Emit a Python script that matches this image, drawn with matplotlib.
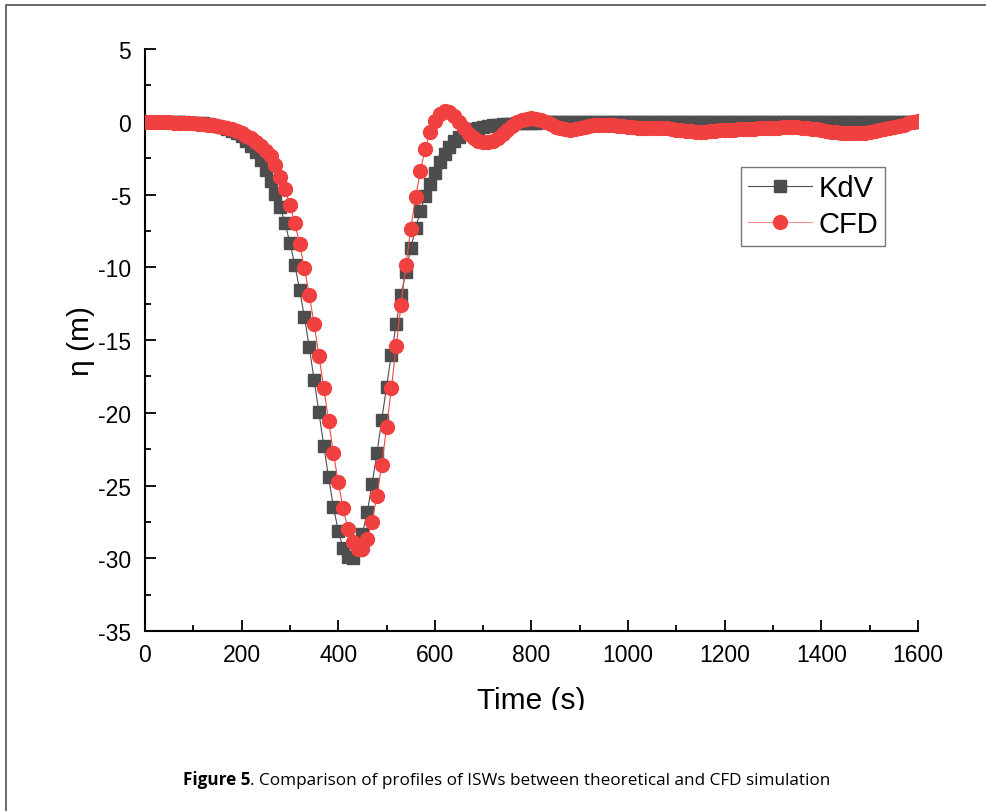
import matplotlib
matplotlib.use("Agg")
import matplotlib.pyplot as plt
from matplotlib.lines import Line2D
from matplotlib.transforms import Bbox, TransformedBbox
from matplotlib.ticker import MultipleLocator

# sample times (s), one point every 10 s
time_s = list(range(0, 1610, 10))

# KdV theory, eta (m)
kdv = [
    0.0, -0.01, -0.01, -0.01, -0.02, -0.02, -0.03, -0.04, -0.05, -0.06,
    -0.07, -0.09, -0.12, -0.16, -0.21, -0.28, -0.37, -0.48, -0.62, -0.8,
    -1.0, -1.3, -1.65, -2.1, -2.6, -3.35, -4.1, -4.97, -5.88, -6.98,
    -8.33, -9.83, -11.55, -13.42, -15.5, -17.73, -19.97, -22.26, -24.44, -26.46,
    -28.1, -29.3, -29.9, -29.95, -29.4, -28.3, -26.85, -24.9, -22.8, -20.5,
    -18.2, -16.0, -13.9, -11.9, -10.3, -8.7, -7.3, -6.15, -5.1, -4.3,
    -3.5, -2.8, -2.2, -1.75, -1.35, -1.05, -0.82, -0.65, -0.52, -0.43,
    -0.36, -0.3, -0.25, -0.21, -0.18, -0.15, -0.13, -0.11, -0.09, -0.08,
    -0.07, -0.06, -0.05, -0.04, -0.03, -0.03, -0.02, -0.02, -0.01, -0.01,
    0.0, 0.0, 0.0, 0.0, 0.0, 0.0, 0.0, 0.0, 0.0, 0.0,
    0.0, 0.0, 0.0, 0.0, 0.0, 0.0, 0.0, 0.0, 0.0, 0.0,
    0.0, 0.0, 0.0, 0.0, 0.0, 0.0, 0.0, 0.0, 0.0, 0.0,
    0.0, 0.0, 0.0, 0.0, 0.0, 0.0, 0.0, 0.0, 0.0, 0.0,
    0.0, 0.0, 0.0, 0.0, 0.0, 0.0, 0.0, 0.0, 0.0, 0.0,
    0.0, 0.0, 0.0, 0.0, 0.0, 0.0, 0.0, 0.0, 0.0, 0.0,
    0.0, 0.0, 0.0, 0.0, 0.0, 0.0, 0.0, 0.0, 0.0, 0.0,
    0.0,
]

# CFD simulation, eta (m)
cfd = [
    0.0, -0.01, -0.02, -0.03, -0.04, -0.05, -0.06, -0.07, -0.08, -0.1,
    -0.12, -0.14, -0.17, -0.21, -0.25, -0.3, -0.36, -0.44, -0.53, -0.64,
    -0.78, -0.95, -1.15, -1.38, -1.68, -1.98, -2.38, -2.95, -3.77, -4.64,
    -5.72, -6.96, -8.4, -10.07, -11.89, -13.9, -16.08, -18.32, -20.59, -22.77,
    -24.78, -26.57, -27.99, -28.9, -29.36, -29.36, -28.68, -27.49, -25.7, -23.57,
    -21.0, -18.3, -15.43, -12.57, -9.85, -7.37, -5.2, -3.36, -1.87, -0.73,
    0.07, 0.55, 0.75, 0.68, 0.4, 0.0, -0.45, -0.85, -1.15, -1.35,
    -1.42, -1.42, -1.3, -1.1, -0.85, -0.55, -0.28, -0.05, 0.12, 0.22,
    0.25, 0.22, 0.12, -0.02, -0.18, -0.33, -0.45, -0.52, -0.54, -0.5,
    -0.42, -0.33, -0.26, -0.21, -0.19, -0.19, -0.2, -0.23, -0.27, -0.31,
    -0.35, -0.38, -0.4, -0.42, -0.43, -0.43, -0.43, -0.44, -0.46, -0.5,
    -0.55, -0.6, -0.64, -0.67, -0.69, -0.69, -0.68, -0.66, -0.63, -0.6,
    -0.58, -0.56, -0.55, -0.53, -0.52, -0.5, -0.48, -0.46, -0.44, -0.42,
    -0.41, -0.4, -0.39, -0.38, -0.38, -0.39, -0.41, -0.44, -0.48, -0.53,
    -0.58, -0.63, -0.68, -0.72, -0.76, -0.79, -0.8, -0.8, -0.79, -0.76,
    -0.72, -0.66, -0.6, -0.53, -0.45, -0.37, -0.29, -0.2, -0.12, -0.05,
    0.02,
]

plt.rcParams['font.family'] = ['Liberation Sans', 'DejaVu Sans']
plt.rcParams['axes.unicode_minus'] = False

fig = plt.figure(figsize=(9.87, 8.12), dpi=100)
ax = fig.add_axes([145 / 987, 1 - 632 / 812, 773 / 987, 582 / 812])

ax.plot(time_s, kdv, color='#4d4d4d', lw=0.8, marker='s', ms=8.3,
        mec='#4d4d4d', mfc='#4d4d4d', label='KdV', zorder=2)
ax.plot(time_s, cfd, color='#f04848', lw=0.8, marker='o', ms=10,
        mec='#f04040', mfc='#f04040', label='CFD', zorder=3)

ax.set_xlim(0, 1600)
ax.set_ylim(-35, 5)
ax.xaxis.set_major_locator(MultipleLocator(200))
ax.xaxis.set_minor_locator(MultipleLocator(100))
ax.yaxis.set_major_locator(MultipleLocator(5))
ax.yaxis.set_minor_locator(MultipleLocator(2.5))

for s in ['top', 'right']:
    ax.spines[s].set_visible(False)
for s in ['left', 'bottom']:
    ax.spines[s].set_linewidth(1.5)

ax.tick_params(which='both', direction='in', width=1.3, labelsize=16.5)
ax.tick_params(which='major', length=8)
ax.tick_params(which='minor', length=4)
ax.tick_params(axis='x', pad=9)
ax.tick_params(axis='y', pad=10)

ax.set_xlabel('Time (s)', fontsize=21.5, labelpad=14)
ax.set_ylabel('η (m)', fontsize=21.5, labelpad=2)

# bottom of the x label is cut off in the original
ax.xaxis.label.set_clip_on(True)
ax.xaxis.label.set_clip_box(TransformedBbox(Bbox([[0, 101 / 812], [1, 1]]), fig.transFigure))

leg = ax.legend(loc='upper left', bbox_to_anchor=((741 - 145) / 773, (632 - 168) / 582),
                fontsize=21, frameon=True, fancybox=False, handlelength=2.2,
                handletextpad=0.2, labelspacing=0.28, borderpad=0.25,
                borderaxespad=0)
leg.get_frame().set_edgecolor('#555555')
leg.get_frame().set_linewidth(1.0)
leg.legend_handles[1].set_color('#f49090')
leg.legend_handles[1].set_markerfacecolor('#f04040')
leg.legend_handles[1].set_markeredgecolor('#f04040')

# page frame
fig.add_artist(Line2D([6 / 987, 6 / 987, 1], [0, 1 - 5.5 / 812, 1 - 5.5 / 812],
                      transform=fig.transFigure, color='#505050', lw=1.2))

# caption
t1 = fig.text(183 / 987, 1 - 785 / 812, 'Figure 5', fontsize=12.3, fontweight='bold',
              family='Open Sans', va='baseline')
ax.annotate('. Comparison of profiles of ISWs between theoretical and CFD simulation',
            xy=(1, 0), xycoords=t1, va='bottom', fontsize=12.3, family='Open Sans',
            annotation_clip=False)

fig.savefig('out.png', dpi=100)
